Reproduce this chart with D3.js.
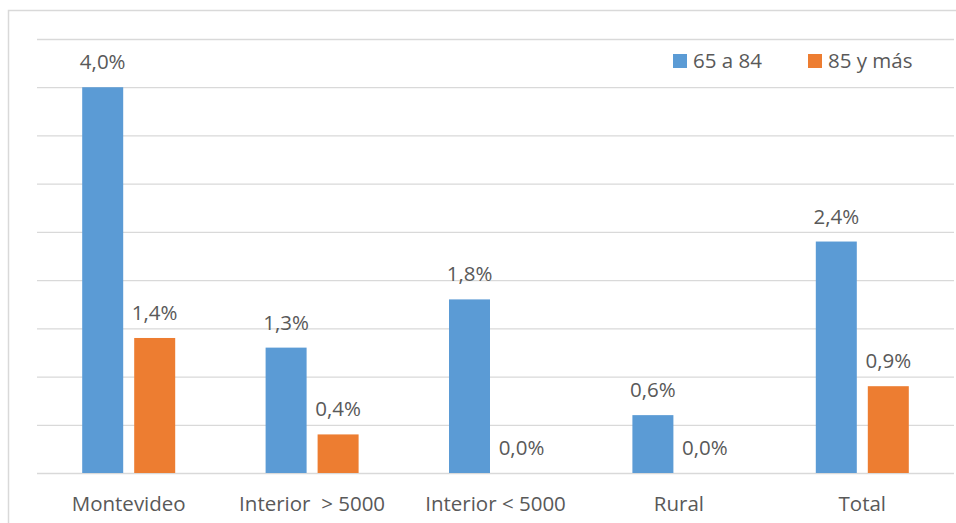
<!DOCTYPE html>
<html>
<head>
<meta charset="utf-8">
<script src="https://cdn.jsdelivr.net/npm/d3@7"></script>
<style>
  html, body { margin: 0; padding: 0; background: #fff; }
  svg { display: block; }
  text { font-family: "Open Sans", "Noto Sans", sans-serif; fill: #595959; }
</style>
</head>
<body>
<svg id="chart" width="956" height="523"></svg>
<script>
// Categories and series values (percent)
const categories = ["Montevideo", "Interior  > 5000", "Interior < 5000", "Rural", "Total"];
const seriesNames = ["65 a 84", "85 y más"];
const values65a84 = [4.0, 1.3, 1.8, 0.6, 2.4];
const values85ymas = [1.4, 0.4, 0.0, 0.0, 0.9];
const yTicks = [0, 0.5, 1, 1.5, 2, 2.5, 3, 3.5, 4, 4.5];
const colors = ["#5B9BD5", "#ED7D31"];

const svg = d3.select("#chart");
const W = 956, H = 523;
const margin = { left: 37, right: 2, top: 39, bottom: 50 };
const plotW = W - margin.left - margin.right;
const baseY = 473;
const fontSize = 20.5;

// Outer chart frame
svg.append("path")
  .attr("d", `M8.5,${H} V10.5 H${W}`)
  .attr("fill", "none")
  .attr("stroke", "#D9D9D9")
  .attr("stroke-width", 1.5);

const x0 = d3.scaleBand()
  .domain(categories)
  .range([margin.left, margin.left + plotW])
  .paddingInner(0)
  .paddingOuter(0);

const x1 = d3.scaleBand()
  .domain(seriesNames)
  .range([0, 93])
  .paddingInner(11 / 52)
  .paddingOuter(0);

const y = d3.scaleLinear().domain([0, 4.5]).range([baseY, margin.top]);

// Horizontal gridlines
const yAxis = d3.axisLeft(y).tickValues(yTicks).tickSize(-plotW).tickFormat("");
const gy = svg.append("g")
  .attr("transform", `translate(${margin.left},0)`)
  .call(yAxis);
gy.select(".domain").remove();
gy.selectAll(".tick line").attr("stroke", "#D9D9D9").attr("stroke-width", 1.3);

const data = categories.map((c, i) => ({
  cat: c,
  vals: [
    { s: seriesNames[0], v: values65a84[i], c: colors[0] },
    { s: seriesNames[1], v: values85ymas[i], c: colors[1] }
  ]
}));

const fmt = v => v.toFixed(1).replace(".", ",") + "%";

const groups = svg.append("g").selectAll("g")
  .data(data)
  .join("g")
  .attr("transform", d => `translate(${x0(d.cat) + (x0.bandwidth() - 93) / 2},0)`);

groups.selectAll("rect")
  .data(d => d.vals)
  .join("rect")
  .attr("x", d => x1(d.s))
  .attr("y", d => y(d.v))
  .attr("width", x1.bandwidth())
  .attr("height", d => baseY - y(d.v))
  .attr("fill", d => d.c);

groups.selectAll("text.val")
  .data(d => d.vals)
  .join("text")
  .attr("class", "val")
  .attr("x", d => x1(d.s) + x1.bandwidth() / 2)
  .attr("y", d => y(d.v) - 18)
  .attr("text-anchor", "middle")
  .attr("font-size", fontSize)
  .text(d => fmt(d.v));

// Category axis labels
const xAxis = d3.axisBottom(x0).tickSize(0).tickPadding(0);
const gx = svg.append("g").attr("transform", `translate(0,${baseY})`).call(xAxis);
gx.select(".domain").remove();
gx.selectAll("text")
  .attr("y", 38)
  .attr("dy", 0)
  .attr("font-size", fontSize)
  .attr("fill", "#595959")
  .style("white-space", "pre")
  .attr("font-family", "'Open Sans', 'Noto Sans', sans-serif");

// Legend
const legendX = [673, 808];
const legend = svg.append("g").selectAll("g")
  .data(seriesNames)
  .join("g")
  .attr("transform", (d, i) => `translate(${legendX[i]},54)`);
legend.append("rect").attr("width", 14).attr("height", 14).attr("fill", (d, i) => colors[i]);
legend.append("text").attr("x", 20).attr("y", 14).attr("font-size", fontSize).text(d => d);
</script>
</body>
</html>
